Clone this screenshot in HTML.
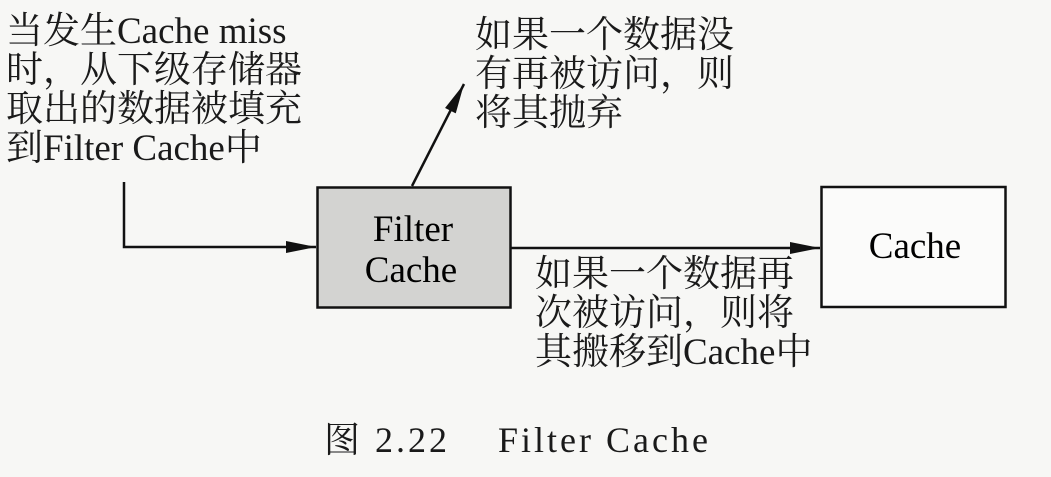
<!DOCTYPE html>
<html><head><meta charset="utf-8"><style>
body{margin:0;width:1051px;height:477px;background:#f7f7f5;overflow:hidden;position:relative;font-family:"Liberation Serif","Noto Serif CJK SC",serif;color:#1a1a1a}
.t{position:absolute;font-size:37px;line-height:39px;white-space:nowrap;letter-spacing:0}
</style></head><body>
<svg width="1051" height="477" style="position:absolute;left:0;top:0">
<defs><marker id="a" markerWidth="30" markerHeight="12" refX="30" refY="6" orient="auto" markerUnits="userSpaceOnUse"><path d="M0,0 L30,6 L0,12 z" fill="#111"/></marker></defs>
<rect x="317.5" y="187.5" width="193" height="120" fill="#d3d3d1" stroke="#111" stroke-width="2.5"/>
<rect x="821.5" y="187" width="184" height="120" fill="#fbfbfa" stroke="#111" stroke-width="2.5"/>
<polyline points="124,182 124,247 316,247" fill="none" stroke="#111" stroke-width="2.5" marker-end="url(#a)"/>
<line x1="511" y1="248" x2="820" y2="248" stroke="#111" stroke-width="2.5" marker-end="url(#a)"/>
<line x1="412" y1="186" x2="464" y2="84" stroke="#111" stroke-width="2.5" marker-end="url(#a)"/>
<text x="413" y="241" font-size="37" text-anchor="middle" font-family="Liberation Serif">Filter</text>
<text x="411" y="282" font-size="37" text-anchor="middle" font-family="Liberation Serif">Cache</text>
<text x="915" y="258" font-size="37" text-anchor="middle" font-family="Liberation Serif">Cache</text>
</svg>
<div class="t" style="left:6px;top:12px">当发生Cache miss<br>时，从下级存储器<br>取出的数据被填充<br>到Filter Cache中</div>
<div class="t" style="left:475px;top:16px">如果一个数据没<br>有再被访问，则<br>将其抛弃</div>
<div class="t" style="left:535px;top:255px">如果一个数据再<br>次被访问，则将<br>其搬移到Cache中</div>
<div class="t" style="left:324px;top:421px;font-size:36px;letter-spacing:3px">图 2.22&nbsp;&nbsp;&nbsp;&nbsp;Filter Cache</div>
</body></html>
